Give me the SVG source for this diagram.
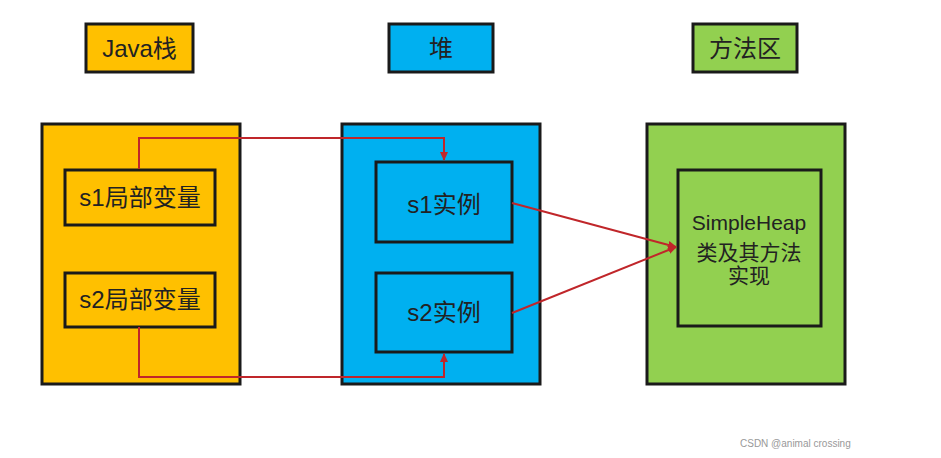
<svg xmlns="http://www.w3.org/2000/svg" width="941" height="458" viewBox="0 0 941 458">
<defs>
<style>
.box{stroke:#1a1a1a;stroke-width:3}
.o{fill:#FFC000}.b{fill:#00B0F0}.g{fill:#92D050}
.t{font-family:"Liberation Sans","Noto Sans CJK SC",sans-serif;font-size:24px;fill:#222;text-anchor:middle}
.t2{font-family:"Liberation Sans","Noto Sans CJK SC",sans-serif;font-size:21px;fill:#222;text-anchor:middle}
.c{fill:none;stroke:#C0262A;stroke-width:2}
</style>
<marker id="ah" markerWidth="10" markerHeight="10" refX="8" refY="5" orient="auto" markerUnits="userSpaceOnUse">
<path d="M0,1 L9,5 L0,9 Z" fill="#C0262A"/>
</marker>
</defs>
<rect width="941" height="458" fill="#fff"/>
<g id="label-java"><rect class="box o" x="86" y="24" width="107" height="48"/><text class="t" x="139.5" y="57">Java栈</text></g>
<g id="label-heap"><rect class="box b" x="389" y="24" width="104" height="48"/><text class="t" x="441" y="57">堆</text></g>
<g id="label-method"><rect class="box g" x="693" y="24" width="104" height="48"/><text class="t" x="745" y="57">方法区</text></g>
<g id="java-stack"><rect class="box o" x="42" y="124" width="198" height="260"/></g>
<g id="s1-local"><rect class="box o" x="65" y="170" width="150" height="55"/><text class="t" x="140" y="206">s1局部变量</text></g>
<g id="s2-local"><rect class="box o" x="65" y="273" width="150" height="54"/><text class="t" x="140" y="308">s2局部变量</text></g>
<g id="heap"><rect class="box b" x="342" y="124" width="198" height="260"/></g>
<g id="s1-inst"><rect class="box b" x="376" y="162" width="136" height="80"/><text class="t" x="444" y="213">s1实例</text></g>
<g id="s2-inst"><rect class="box b" x="376" y="273" width="136" height="79"/><text class="t" x="444" y="321">s2实例</text></g>
<g id="method-area"><rect class="box g" x="647" y="124" width="198" height="260"/></g>
<g id="simpleheap"><rect class="box g" x="678" y="170" width="143" height="156"/>
<text class="t2" x="749" y="230">SimpleHeap</text><text class="t2" x="749" y="260">类及其方法</text><text class="t2" x="749" y="283">实现</text></g>
<g id="connectors">
<path class="c" d="M139,169 V138 H444 V160" marker-end="url(#ah)"/>
<path class="c" d="M139,327 V377 H444 V354" marker-end="url(#ah)"/>
<path class="c" d="M512,203 L676,247" marker-end="url(#ah)"/>
<path class="c" d="M512,313 L676,247" marker-end="url(#ah)"/>
</g>
<text x="740" y="447" font-family="Liberation Sans, sans-serif" font-size="10" fill="#999">CSDN @animal crossing</text>
</svg>
